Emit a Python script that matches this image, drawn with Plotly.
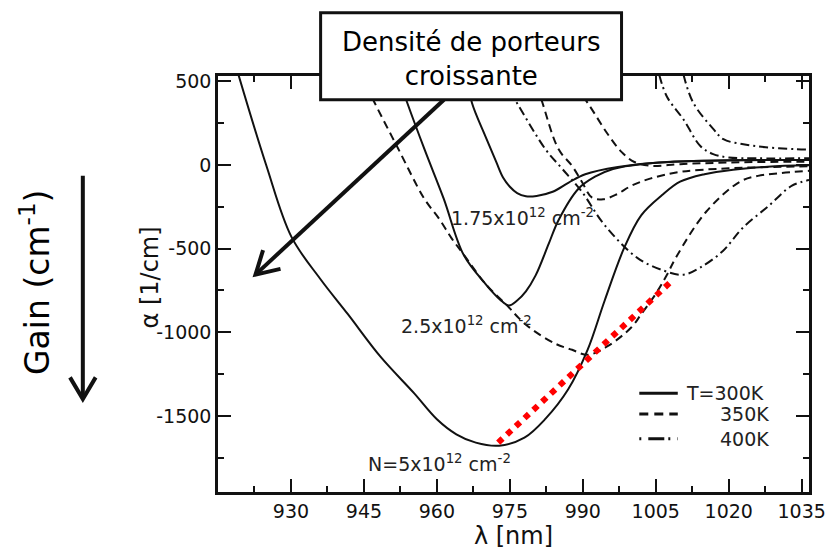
import math
import plotly.graph_objects as go

# ---------------- data ----------------
# T = 300 K (solid)
lam_300_n5 = [919.2, 924.9, 930.1, 936.0, 941.7, 948.4, 955.3, 960.0, 964.0, 968.0, 972.8, 978.0, 982.3, 987.0, 991.0, 994.5, 998.5, 1002.0, 1006.3, 1010.0, 1015.0, 1020.9, 1028.0, 1036.5]
a_300_n5 = [540, 0, -430, -680, -892, -1146, -1364, -1520, -1610, -1660, -1678, -1630, -1518, -1341, -1104, -810, -496, -301, -180, -100, -55, -28, -10, -2]

lam_300_n25 = [951.9, 953.9, 957.5, 961.4, 965.5, 970.1, 973.0, 974.8, 976.5, 978.3, 980.3, 983.0, 985.0, 989.1, 992.5, 996.2, 1002.3, 1015.0, 1036.5]
a_300_n25 = [540, 372, 90, -201, -537, -715, -805, -840, -810, -755, -660, -470, -330, -142, -70, -24, 6, 25, 30]

lam_300_n175 = [966.1, 967.2, 970.0, 972.2, 973.6, 975.0, 976.5, 978.3, 980.5, 983.8, 987.1, 990.5, 997.2, 1007.3, 1036.5]
a_300_n175 = [540, 372, 170, 18, -75, -130, -168, -187, -185, -160, -105, -55, -12, 18, 30]

# T = 350 K (dashed)
lam_350_n5 = [944.4, 947.2, 952.0, 957.4, 960.4, 963.0, 965.7, 970.1, 974.6, 977.0, 979.7, 984.4, 987.8, 991.0, 995.0, 1000.0, 1002.0, 1005.0, 1007.3, 1009.3, 1015.4, 1022.3, 1026.0, 1030.0, 1036.5]
a_350_n5 = [540, 372, 100, -201, -319, -437, -543, -715, -845, -920, -986, -1069, -1105, -1135, -1085, -970, -892, -770, -656, -545, -278, -100, -65, -50, -35]

lam_350_n25 = [979.9, 981.7, 985.0, 987.8, 989.8, 991.9, 994.2, 997.0, 1000.0, 1004.0, 1010.1, 1020.0, 1036.5]
a_350_n25 = [540, 372, 95, -6, -100, -195, -205, -175, -124, -80, -41, -20, -8]

lam_350_n175 = [987.0, 991.5, 995.0, 998.0, 1000.6, 1004.0, 1010.0, 1020.0, 1036.5]
a_350_n175 = [540, 349, 190, 77, 18, -5, 5, 15, 20]

# T = 400 K (dash-dot)
lam_400_n5 = [973.0, 976.9, 982.3, 985.8, 989.8, 994.5, 1001.2, 1006.7, 1010.7, 1014.1, 1018.8, 1022.8, 1028.3, 1033.0, 1036.5]
a_400_n5 = [540, 349, 95, -24, -160, -360, -555, -632, -656, -614, -514, -378, -242, -124, -90]

lam_400_n25 = [1005.7, 1007.3, 1010.7, 1014.2, 1016.8, 1020.0, 1026.0, 1036.5]
a_400_n25 = [540, 408, 272, 112, 65, 45, 40, 40]

lam_400_n175 = [1010.7, 1012.7, 1016.9, 1018.9, 1023.0, 1027.6, 1033.7, 1036.5]
a_400_n175 = [540, 372, 213, 154, 124, 106, 95, 92]

# red dotted guide through the gain maxima
red_lam = [972.6, 1008.4]
red_a = [-1660, -690]

# axes
x_ticks = [930, 945, 960, 975, 990, 1005, 1020, 1035]
x_ticktext = ["930", "945", "960", "975", "990", "1005", "1020", "1035"]
y_ticks = [-1500, -1000, -500, 0, 500]
y_ticktext = ["-1500", "-1000", "-500", "0", "500"]

density_labels = ["1.75x10<sup>12</sup> cm<sup>-2</sup>", "2.5x10<sup>12</sup> cm<sup>-2</sup>", "N=5x10<sup>12</sup> cm<sup>-2</sup>"]
density_label_pos = [(962.5, -313), (952.3, -957), (945.4, -1784)]
legend_names = ["T=300K", "350K", "400K"]

# ---------------- figure ----------------
W, H = 838, 556
L, R, T, B = 218, 817, 76, 497

def PX(x):
    return (x - L) / (R - L)

def PY(y):
    return (B - y) / (B - T)

FONT = "DejaVu Sans"
INK = "#111111"
DASH = "8px,5px"
DASHDOT = "9px,4px,2px,4px"

fig = go.Figure()

curves = [
    (lam_300_n5, a_300_n5, "solid"), (lam_300_n25, a_300_n25, "solid"), (lam_300_n175, a_300_n175, "solid"),
    (lam_350_n5, a_350_n5, DASH), (lam_350_n25, a_350_n25, DASH), (lam_350_n175, a_350_n175, DASH),
    (lam_400_n5, a_400_n5, DASHDOT), (lam_400_n25, a_400_n25, DASHDOT), (lam_400_n175, a_400_n175, DASHDOT),
]
for xs, ys, d in curves:
    fig.add_trace(go.Scatter(x=xs, y=ys, mode="lines", showlegend=False, hoverinfo="skip",
                             line=dict(color=INK, width=2, dash=d, shape="spline", smoothing=1.0)))

fig.add_trace(go.Scatter(x=red_lam, y=red_a, mode="lines", showlegend=False, hoverinfo="skip",
                         line=dict(color="#ff0000", width=6, dash="6px,6px")))

fig.update_layout(
    width=W, height=H,
    margin=dict(l=L, r=W - R, t=T, b=H - B),
    paper_bgcolor="white", plot_bgcolor="white",
    font=dict(family=FONT, size=19, color=INK),
    hovermode=False,
    xaxis=dict(range=[915, 1036.5], tickvals=x_ticks, ticktext=x_ticktext,
               ticks="inside", ticklen=13, tickwidth=2, tickcolor=INK,
               showline=True, linewidth=2.5, linecolor=INK, mirror="ticks",
               showgrid=False, zeroline=False,
               minor=dict(tickvals=[x + 7.5 for x in [915] + x_ticks], ticks="inside", ticklen=6, tickwidth=2, tickcolor=INK),
               title=dict(text="λ [nm]", font=dict(size=24), standoff=6)),
    yaxis=dict(range=[-1955, 532], tickvals=y_ticks, ticktext=y_ticktext,
               ticks="inside", ticklen=13, tickwidth=2, tickcolor=INK,
               showline=True, linewidth=2.5, linecolor=INK, mirror="ticks",
               showgrid=False, zeroline=False,
               minor=dict(tickvals=[-1750, -1250, -750, -250, 250], ticks="inside", ticklen=6, tickwidth=2, tickcolor=INK)),
)

# y axis title (sits between the tick labels, as in the reference)
fig.add_annotation(xref="paper", yref="paper", x=PX(149), y=PY(280), text="α [1/cm]", textangle=-90,
                   showarrow=False, xanchor="center", yanchor="middle", font=dict(size=24, color=INK))

# density labels
for txt, (lx, ly) in zip(density_labels, density_label_pos):
    fig.add_annotation(x=lx, y=ly, xref="x", yref="y", text=txt, showarrow=False,
                       xanchor="left", yanchor="middle", font=dict(size=19, color="#222"))

# legend (manual)
leg_rows = [397, 418, 443]
leg_dash = ["solid", "9px,6px", "2px,7px,16px,4px"]
for name, yy, d, anchor in zip(legend_names, leg_rows, leg_dash, ["left", "right", "right"]):
    fig.add_shape(type="line", xref="paper", yref="paper", x0=PX(645), x1=PX(684), y0=PY(yy), y1=PY(yy),
                  line=dict(color=INK, width=3, dash=d))
    fig.add_annotation(xref="paper", yref="paper", x=PX(690) if anchor == "left" else PX(778), y=PY(yy),
                       text=name, showarrow=False, xanchor=anchor, yanchor="middle",
                       font=dict(size=19, color="#222"))

# big diagonal arrow from the box
tail = (447, 100)
tip = (256, 277)
fig.add_shape(type="line", xref="paper", yref="paper", x0=PX(tail[0]), y0=PY(tail[1]), x1=PX(tip[0]), y1=PY(tip[1]),
              line=dict(color=INK, width=4), layer="above")
ux, uy = tail[0] - tip[0], tail[1] - tip[1]
n = math.hypot(ux, uy)
ux, uy = ux / n, uy / n
arms = []
for s in (1, -1):
    c, si = math.cos(math.radians(30)), math.sin(math.radians(30)) * s
    vx, vy = c * ux - si * uy, si * ux + c * uy
    arms.append((tip[0] + 26 * vx, tip[1] + 26 * vy))
path = "M {},{} L {},{} L {},{}".format(PX(arms[0][0]), PY(arms[0][1]), PX(tip[0]), PY(tip[1]), PX(arms[1][0]), PY(arms[1][1]))
fig.add_shape(type="path", xref="paper", yref="paper", path=path, line=dict(color=INK, width=4), layer="above")

# box
fig.add_shape(type="rect", xref="paper", yref="paper", x0=PX(322), x1=PX(627), y0=PY(100), y1=PY(12),
              line=dict(color=INK, width=3), fillcolor="white", layer="above")
fig.add_annotation(xref="paper", yref="paper", x=PX(474.5), y=PY(59), text="Densité de porteurs<br>croissante",
                   showarrow=False, xanchor="center", yanchor="middle",
                   font=dict(family="DejaVu Sans", size=26, color="#000"))

# Gain label and vertical arrow
fig.add_annotation(xref="paper", yref="paper", x=PX(33), y=PY(285), text="Gain (cm<sup>-1</sup>)",
                   textangle=-90, showarrow=False, xanchor="center", yanchor="middle",
                   font=dict(family="DejaVu Sans", size=33, color="#000"))
fig.add_shape(type="line", xref="paper", yref="paper", x0=PX(81), x1=PX(81), y0=PY(177), y1=PY(402),
              line=dict(color=INK, width=4))
fig.add_shape(type="path", xref="paper", yref="paper",
              path="M {},{} L {},{} L {},{}".format(PX(68), PY(381), PX(81), PY(403), PX(94), PY(381)),
              line=dict(color=INK, width=4))

fig.write_html("out.html", config={"displayModeBar": False},
               post_script="document.body.style.margin='0';document.body.style.padding='0';")
